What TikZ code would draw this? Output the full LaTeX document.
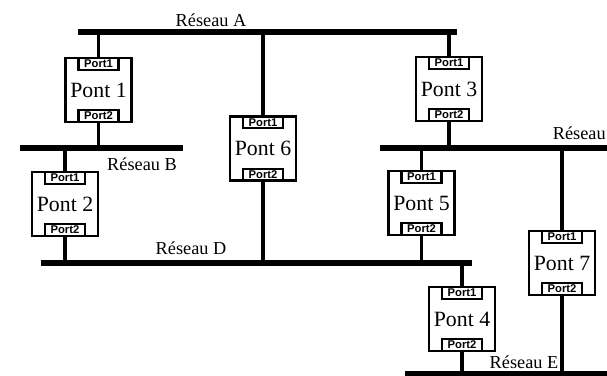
\documentclass[tikz,border=0pt]{standalone}
\usepackage{fontspec}
\setmainfont{Liberation Serif}
\setsansfont{Liberation Sans}
\usetikzlibrary{positioning}
\tikzset{
  pontBox/.style={
    draw=black,
    line width=1.6pt,
    minimum width=1.65cm,
    minimum height=1.6cm,
    inner sep=0pt,
    font=\fontsize{15.5}{16}\selectfont
  },
  portBox/.style={
    draw=black,
    line width=1.5pt,
    minimum width=1.0cm,
    minimum height=0.3cm,
    inner sep=0pt,
    font=\sffamily\bfseries\fontsize{8}{8}\selectfont
  },
  busLine/.style={
    line width=4.8pt,
    draw=black
  },
  stemLine/.style={
    line width=2.5pt,
    draw=black
  },
  netLabel/.style={
    inner sep=0pt,
    font=\fontsize{13}{14}\selectfont
  }
}

\begin{document}
\begin{tikzpicture}[x=0.025cm,y=-0.025cm]
\useasboundingbox (0,0) rectangle (607,376);

% Network buses.
\coordinate (busAw) at (78,32);   \coordinate (busAe) at (457,32);
\coordinate (busBw) at (20,148);  \coordinate (busBe) at (183,148);
\coordinate (busCw) at (380,148); \coordinate (busCe) at (607,148);
\coordinate (busDw) at (41,263);  \coordinate (busDe) at (472,263);
\coordinate (busEw) at (405,374); \coordinate (busEe) at (607,374);
\draw[busLine] (busAw) -- (busAe);
\draw[busLine] (busBw) -- (busBe);
\draw[busLine] (busCw) -- (busCe);
\draw[busLine] (busDw) -- (busDe);
\draw[busLine] (busEw) -- (busEe);

\node[netLabel] (labelA) at (211,20) {Réseau A};
\node[netLabel] (labelB) at (142,164) {Réseau B};
\node[netLabel, anchor=east] (labelC) at (606,133) {Réseau};
\node[netLabel] (labelD) at (191,248) {Réseau D};
\node[netLabel] (labelE) at (524,362) {Réseau E};

% Bridges.
\node[pontBox] (pont1) at (98.5,90) {Pont 1};
\node[portBox, below=0pt of pont1.north] (pont1in) {Port1};
\node[portBox, above=0pt of pont1.south] (pont1out) {Port2};

\node[pontBox] (pont2) at (65,204) {Pont 2};
\node[portBox, below=0pt of pont2.north] (pont2in) {Port1};
\node[portBox, above=0pt of pont2.south] (pont2out) {Port2};

\node[pontBox] (pont3) at (449,89) {Pont 3};
\node[portBox, below=0pt of pont3.north] (pont3in) {Port1};
\node[portBox, above=0pt of pont3.south] (pont3out) {Port2};

\node[pontBox] (pont4) at (462,319) {Pont 4};
\node[portBox, below=0pt of pont4.north] (pont4in) {Port1};
\node[portBox, above=0pt of pont4.south] (pont4out) {Port2};

\node[pontBox] (pont5) at (421.5,203) {Pont 5};
\node[portBox, below=0pt of pont5.north] (pont5in) {Port1};
\node[portBox, above=0pt of pont5.south] (pont5out) {Port2};

\node[pontBox] (pont6) at (263,148.5) {Pont 6};
\node[portBox, below=0pt of pont6.north] (pont6in) {Port1};
\node[portBox, above=0pt of pont6.south] (pont6out) {Port2};

\node[pontBox] (pont7) at (562,263) {Pont 7};
\node[portBox, below=0pt of pont7.north] (pont7in) {Port1};
\node[portBox, above=0pt of pont7.south] (pont7out) {Port2};

% Links between bridges and buses.
\draw[stemLine] (busAw -| pont1.north) -- (pont1.north);
\draw[stemLine] (pont1.south) -- (pont1.south |- busBw);
\draw[stemLine] (busBw -| pont2.north) -- (pont2.north);
\draw[stemLine] (pont2.south) -- (pont2.south |- busDw);
\draw[stemLine] (busAw -| pont3.north) -- (pont3.north);
\draw[stemLine] (pont3.south) -- (pont3.south |- busCw);
\draw[stemLine] (busAw -| pont6.north) -- (pont6.north);
\draw[stemLine] (pont6.south) -- (pont6.south |- busDw);
\draw[stemLine] (busCw -| pont5.north) -- (pont5.north);
\draw[stemLine] (pont5.south) -- (pont5.south |- busDw);
\draw[stemLine] (busDw -| pont4.north) -- (pont4.north);
\draw[stemLine] (pont4.south) -- (pont4.south |- busEw);
\draw[stemLine] (busCw -| pont7.north) -- (pont7.north);
\draw[stemLine] (pont7.south) -- (pont7.south |- busEw);

\end{tikzpicture}
\end{document}
